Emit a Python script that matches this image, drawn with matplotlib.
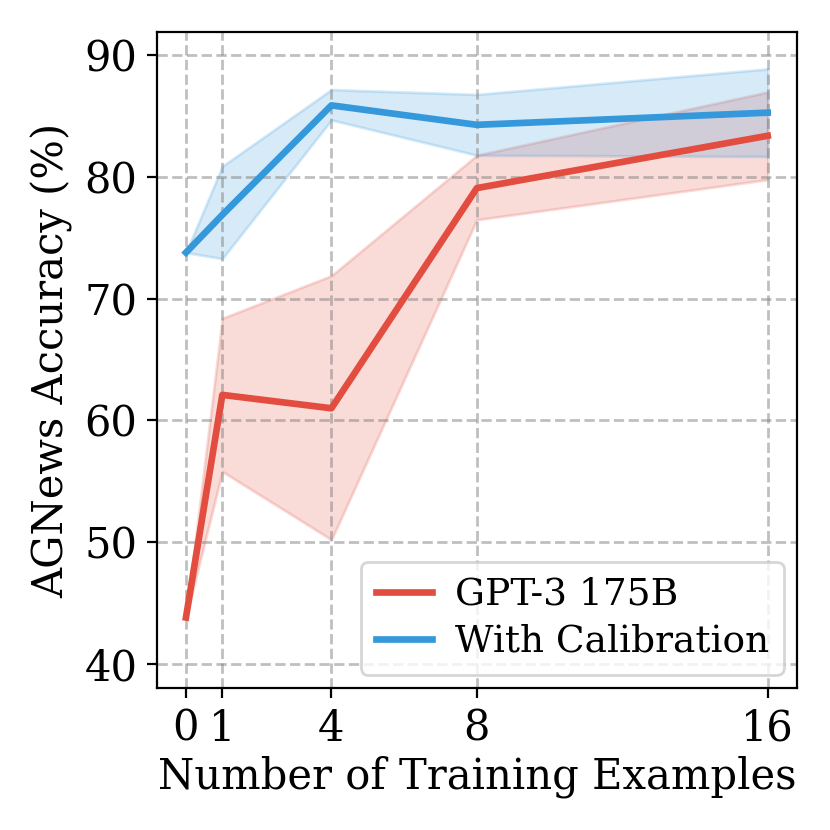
import matplotlib
matplotlib.use("Agg")
import matplotlib.pyplot as plt

shots = [0, 1, 4, 8, 16]
gpt3_mean = [43.8, 62.1, 61.0, 79.1, 83.4]
gpt3_low = [43.8, 55.8, 50.2, 76.5, 79.8]
gpt3_high = [43.8, 68.4, 71.9, 81.8, 87.0]
cal_mean = [73.8, 76.9, 85.9, 84.3, 85.3]
cal_low = [73.8, 73.3, 84.7, 81.8, 81.7]
cal_high = [73.8, 80.9, 87.2, 86.8, 88.9]
yticks = [40, 50, 60, 70, 80, 90]

plt.rcParams['font.family'] = ['DejaVu Serif']

red = '#e24d3f'
blue = '#3498db'

fig = plt.figure(figsize=(4.15, 4.15), dpi=200)
ax = fig.add_axes([0.189, 0.171, 0.771, 0.790])

ax.fill_between(shots, gpt3_low, gpt3_high, color=red, alpha=0.2)
ax.fill_between(shots, cal_low, cal_high, color=blue, alpha=0.2)
ax.plot(shots, gpt3_mean, color=red, lw=2.4, label='GPT-3 175B')
ax.plot(shots, cal_mean, color=blue, lw=2.4, label='With Calibration')

ax.set_xticks(shots)
ax.set_yticks(yticks)
ax.set_xlim(-0.8, 16.8)
ax.set_ylim(38.0, 91.9)
ax.tick_params(labelsize=15)
ax.grid(True, linestyle='--', color='gray', alpha=0.5, lw=1.0)
ax.set_xlabel('Number of Training Examples', fontsize=15, labelpad=2)
ax.set_ylabel('AGNews Accuracy (%)', fontsize=15)
ax.legend(loc='lower right', fontsize=13.5, handlelength=1.5,
          handletextpad=0.6, labelspacing=0.3, borderaxespad=0.35)

fig.savefig('out.png', dpi=200)
